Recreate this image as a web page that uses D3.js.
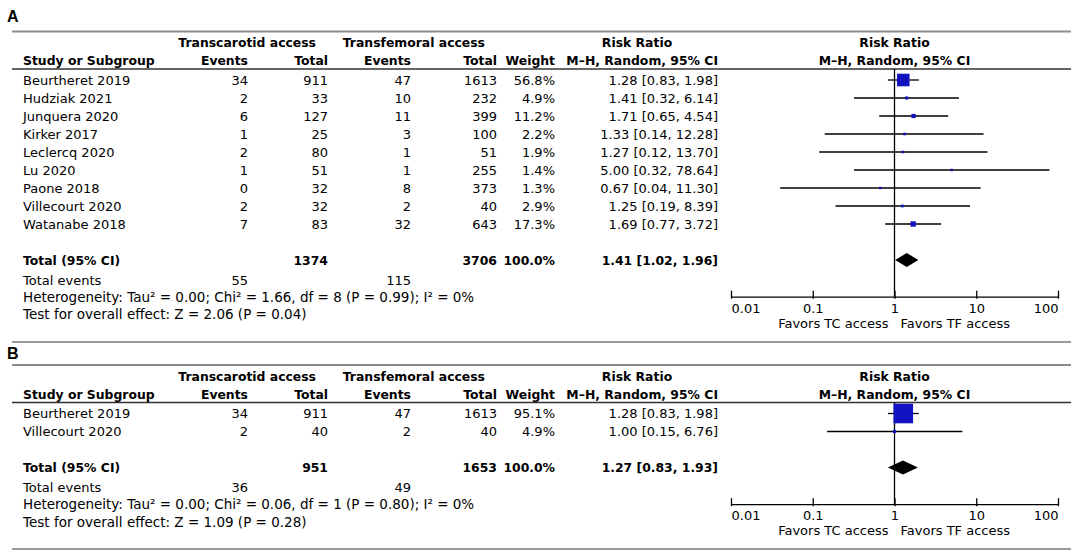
<!DOCTYPE html>
<html>
<head>
<meta charset="utf-8">
<script src="https://cdn.jsdelivr.net/npm/d3@7"></script>
<style>
body { margin: 0; background: #fff; }
svg { display: block; }
text { font-family: "DejaVu Sans", sans-serif; font-size: 13px; fill: #000; }
text.b { font-weight: bold; font-size: 12.4px; }
text.foot { font-size: 13.5px; }
text.panel { font-family: "Liberation Sans", Arial, sans-serif; font-weight: bold; font-size: 16px; }
</style>
</head>
<body>
<svg width="1084" height="556"></svg>
<script>
// Panel A data
const studiesA = ["Beurtheret 2019", "Hudziak 2021", "Junquera 2020", "Kirker 2017", "Leclercq 2020",
                  "Lu 2020", "Paone 2018", "Villecourt 2020", "Watanabe 2018"];
const tcEventsA = [34, 2, 6, 1, 2, 1, 0, 2, 7];
const tcTotalA  = [911, 33, 127, 25, 80, 51, 32, 32, 83];
const tfEventsA = [47, 10, 11, 3, 1, 1, 8, 2, 32];
const tfTotalA  = [1613, 232, 399, 100, 51, 255, 373, 40, 643];
const weightA   = [56.8, 4.9, 11.2, 2.2, 1.9, 1.4, 1.3, 2.9, 17.3];
const rrA       = [1.28, 1.41, 1.71, 1.33, 1.27, 5.00, 0.67, 1.25, 1.69];
const lowA      = [0.83, 0.32, 0.65, 0.14, 0.12, 0.32, 0.04, 0.19, 0.77];
const highA     = [1.98, 6.14, 4.54, 12.28, 13.70, 78.64, 11.30, 8.39, 3.72];
const totalA    = [1374, 3706];          // TC total, TF total
const pooledA   = [1.41, 1.02, 1.96];    // RR, low, high
const eventsA   = [55, 115];
const hetA  = "Heterogeneity: Tau² = 0.00; Chi² = 1.66, df = 8 (P = 0.99); I² = 0%";
const testA = "Test for overall effect: Z = 2.06 (P = 0.04)";

// Panel B data
const studiesB = ["Beurtheret 2019", "Villecourt 2020"];
const tcEventsB = [34, 2];
const tcTotalB  = [911, 40];
const tfEventsB = [47, 2];
const tfTotalB  = [1613, 40];
const weightB   = [95.1, 4.9];
const rrB       = [1.28, 1.00];
const lowB      = [0.83, 0.15];
const highB     = [1.98, 6.76];
const totalB    = [951, 1653];
const pooledB   = [1.27, 0.83, 1.93];
const eventsB   = [36, 49];
const hetB  = "Heterogeneity: Tau² = 0.00; Chi² = 0.06, df = 1 (P = 0.80); I² = 0%";
const testB = "Test for overall effect: Z = 1.09 (P = 0.28)";

const axisTicks = [0.01, 0.1, 1, 10, 100];
const tickLabels = ["0.01", "0.1", "1", "10", "100"];

const svg = d3.select("svg");

const x = d3.scaleLog().domain([0.01, 100]).range([731, 1058]);
const boxSize = d3.scaleLinear().domain([0, 100]).range([2.2, 20.5]);

// right edges of the table columns
const col = {study: 23, ev1: 248, tot1: 328, ev2: 411, tot2: 497, weight: 555, ci: 718};

const fmtCI = (r, l, h) => `${r.toFixed(2)} [${l.toFixed(2)}, ${h.toFixed(2)}]`;

function txt(g, xp, yp, s, anchor, cls) {
  return g.append("text")
    .attr("x", xp)
    .attr("y", yp)
    .attr("text-anchor", anchor || "start")
    .attr("class", cls || null)
    .text(s);
}

function hline(g, yp, color, w) {
  g.append("line")
    .attr("x1", 12).attr("x2", 1071)
    .attr("y1", yp).attr("y2", yp)
    .attr("stroke", color)
    .attr("stroke-width", w);
}

function panel(p) {
  const g = svg.append("g");
  const L = p.top;
  const n = p.studies.length;
  // row index -> vertical centre
  const y = d3.scaleLinear().domain([0, 1]).range([L + 48.5, L + 66.5]);
  const headY = L + 37.5;

  txt(g, 7, p.labelY, p.label, "start", "panel");
  hline(g, L, "#8c8c8c", 2);
  hline(g, headY, "#333", 1.6);
  hline(g, p.bottom, "#9a9a9a", 2);

  // header
  const h1 = L + 15.5, h2 = L + 33.5;
  txt(g, col.tot1 - 12, h1, "Transcarotid access", "end", "b");
  txt(g, col.tot2 - 12, h1, "Transfemoral access", "end", "b");
  txt(g, 637, h1, "Risk Ratio", "middle", "b");
  txt(g, x(1), h1, "Risk Ratio", "middle", "b");
  txt(g, col.study, h2, "Study or Subgroup", "start", "b");
  txt(g, col.ev1, h2, "Events", "end", "b");
  txt(g, col.tot1, h2, "Total", "end", "b");
  txt(g, col.ev2, h2, "Events", "end", "b");
  txt(g, col.tot2, h2, "Total", "end", "b");
  txt(g, col.weight, h2, "Weight", "end", "b");
  txt(g, col.ci, h2, "M\u2013H, Random, 95% CI", "end", "b");
  txt(g, x(1), h2, "M\u2013H, Random, 95% CI", "middle", "b");

  // study rows
  p.studies.forEach((s, i) => {
    const by = y(i) + 4.5;
    txt(g, col.study, by, s);
    txt(g, col.ev1, by, p.tcEvents[i], "end");
    txt(g, col.tot1, by, p.tcTotal[i], "end");
    txt(g, col.ev2, by, p.tfEvents[i], "end");
    txt(g, col.tot2, by, p.tfTotal[i], "end");
    txt(g, col.weight, by, p.weight[i].toFixed(1) + "%", "end");
    txt(g, col.ci, by, fmtCI(p.rr[i], p.low[i], p.high[i]), "end");
  });

  // totals
  const yT = y(n + 1);
  txt(g, col.study, yT + 4.5, "Total (95% CI)", "start", "b");
  txt(g, col.tot1, yT + 4.5, p.totals[0], "end", "b");
  txt(g, col.tot2, yT + 4.5, p.totals[1], "end", "b");
  txt(g, col.weight, yT + 4.5, "100.0%", "end", "b");
  txt(g, col.ci, yT + 4.5, fmtCI(p.pooled[0], p.pooled[1], p.pooled[2]), "end", "b");
  txt(g, col.study, yT + 24.5, "Total events");
  txt(g, col.ev1, yT + 24.5, p.events[0], "end");
  txt(g, col.ev2, yT + 24.5, p.events[1], "end");
  txt(g, col.study, yT + 41.5, p.het, "start", "foot");
  txt(g, col.study, yT + 59, p.test, "start", "foot");

  // forest plot
  const axisY = yT + 36.7;
  g.append("line")
    .attr("x1", x(1)).attr("x2", x(1))
    .attr("y1", headY).attr("y2", axisY)
    .attr("stroke", "#000").attr("stroke-width", 1.3);

  g.selectAll(".ci")
    .data(p.studies)
    .join("line")
    .attr("class", "ci")
    .attr("x1", (d, i) => x(p.low[i]))
    .attr("x2", (d, i) => x(p.high[i]))
    .attr("y1", (d, i) => y(i))
    .attr("y2", (d, i) => y(i))
    .attr("stroke", "#000")
    .attr("stroke-width", 1.3);

  g.selectAll(".box")
    .data(p.studies)
    .join("rect")
    .attr("class", "box")
    .attr("x", (d, i) => x(p.rr[i]) - boxSize(p.weight[i]) / 2)
    .attr("y", (d, i) => y(i) - boxSize(p.weight[i]) / 2)
    .attr("width", (d, i) => boxSize(p.weight[i]))
    .attr("height", (d, i) => boxSize(p.weight[i]))
    .attr("fill", "#1212c0");

  const [pr, pl, ph] = p.pooled;
  g.append("polygon")
    .attr("points", [[x(pl), yT], [x(pr), yT - 7], [x(ph), yT], [x(pr), yT + 7]].join(" "))
    .attr("fill", "#000");

  const ax = g.append("g")
    .attr("transform", `translate(0,${axisY})`)
    .call(d3.axisBottom(x).tickValues(axisTicks).tickFormat((d, i) => tickLabels[i]).tickSizeOuter(0));
  ax.select(".domain").attr("stroke", "#000").attr("stroke-width", 1.3);
  ax.selectAll(".tick line").attr("y1", -6).attr("y2", 2).attr("stroke-width", 1.3);
  ax.selectAll(".tick text")
    .attr("y", 16).attr("dy", null)
    .attr("text-anchor", (d, i) => i === 0 ? "start" : (i === axisTicks.length - 1 ? "end" : "middle"));
  ax.attr("font-family", null).attr("font-size", null);

  txt(g, x(1) - 6, axisY + 31, "Favors TC access", "end");
  txt(g, x(1) + 6, axisY + 31, "Favors TF access", "start");
}

panel({
  label: "A", labelY: 22, top: 31.5, bottom: 342,
  studies: studiesA, tcEvents: tcEventsA, tcTotal: tcTotalA, tfEvents: tfEventsA, tfTotal: tfTotalA,
  weight: weightA, rr: rrA, low: lowA, high: highA,
  totals: totalA, pooled: pooledA, events: eventsA, het: hetA, test: testA
});

panel({
  label: "B", labelY: 359, top: 365, bottom: 549,
  studies: studiesB, tcEvents: tcEventsB, tcTotal: tcTotalB, tfEvents: tfEventsB, tfTotal: tfTotalB,
  weight: weightB, rr: rrB, low: lowB, high: highB,
  totals: totalB, pooled: pooledB, events: eventsB, het: hetB, test: testB
});
</script>
</body>
</html>
